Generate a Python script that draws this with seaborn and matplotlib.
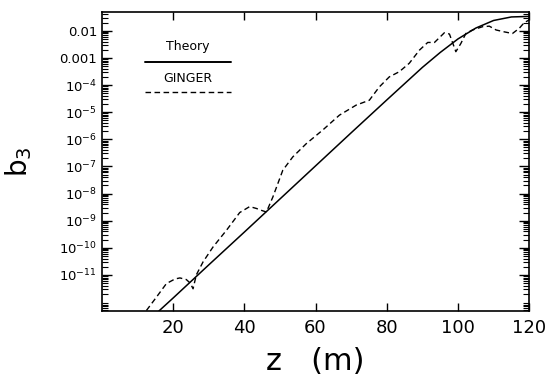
import numpy as np
import pandas as pd
import matplotlib
matplotlib.use("Agg")
import matplotlib.pyplot as plt
from matplotlib.lines import Line2D
from matplotlib.ticker import FixedLocator, FixedFormatter, LogLocator, NullFormatter
import seaborn as sns

# Theory curve: z (m) and log10(b3)
theory_z = [16, 20, 30, 40, 50, 60, 70, 80, 90, 95, 100, 105, 110, 115, 120]
theory_exp = [-12.33, -11.85, -10.63, -9.42, -8.20, -6.98, -5.76, -4.55, -3.35,
              -2.80, -2.30, -1.90, -1.62, -1.49, -1.47]

# GINGER simulation: z (m) and log10(b3)
ginger_z = [12.5, 15.3, 18.1, 20.5, 21.9, 23.7, 24.8, 25.6, 26.5, 28.4, 31.2, 35.0,
            38.7, 41.5, 43.4, 44.8, 46.2, 48.0, 50.8, 53.6, 57.4, 62.0, 66.7, 71.4,
            75.1, 77.9, 80.7, 83.5, 86.3, 89.2, 91.5, 93.4, 96.2, 97.6, 99.4, 100.8,
            102.2, 104.1, 106.9, 108.8, 110.7, 113.0, 115.3, 117.2, 118.6, 120]
ginger_exp = [-12.31, -11.82, -11.32, -11.15, -11.11, -11.17, -11.30, -11.51, -11.0,
              -10.52, -9.97, -9.35, -8.70, -8.48, -8.55, -8.62, -8.68, -8.13, -7.14,
              -6.65, -6.16, -5.66, -5.11, -4.74, -4.56, -4.07, -3.70, -3.51, -3.20,
              -2.71, -2.43, -2.43, -2.07, -2.12, -2.77, -2.47, -2.10, -1.97, -1.85,
              -1.83, -1.97, -2.04, -2.10, -1.91, -1.70, -1.60]

x_ticks = [20, 40, 60, 80, 100, 120]
y_tick_exps = [-2, -3, -4, -5, -6, -7, -8, -9, -10, -11]
y_tick_labels = ["0.01", "0.001"] + [f"$10^{{{e}}}$" for e in range(-4, -12, -1)]

sns.set_style("ticks")
plt.rcParams["font.family"] = ["DejaVu Sans"]
plt.rcParams["mathtext.default"] = "regular"
for k in ["text.color", "axes.labelcolor", "xtick.color", "ytick.color", "axes.edgecolor"]:
    plt.rcParams[k] = "black"

theory = pd.DataFrame({"z": theory_z, "b3": 10.0 ** np.array(theory_exp)})
ginger = pd.DataFrame({"z": ginger_z, "b3": 10.0 ** np.array(ginger_exp)})

fig = plt.figure(figsize=(5.6, 3.77), dpi=100)
ax = fig.add_axes([0.182, 0.175, 0.763, 0.793])

sns.lineplot(data=theory, x="z", y="b3", ax=ax, color="black", lw=1.1, estimator=None)
sns.lineplot(data=ginger, x="z", y="b3", ax=ax, color="black", lw=1.0,
             estimator=None, linestyle=(0, (4, 2.5)))

ax.set_yscale("log")
ax.set_xlim(0, 120)
ax.set_ylim(10 ** -12.33, 10 ** -1.31)

ax.set_xticks(x_ticks)
ax.set_xticklabels([str(t) for t in x_ticks], fontsize=13)
ax.yaxis.set_major_locator(FixedLocator([10.0 ** e for e in y_tick_exps]))
ax.yaxis.set_major_formatter(FixedFormatter(y_tick_labels))
ax.yaxis.set_minor_locator(LogLocator(base=10, subs=np.arange(2, 10), numticks=50))
ax.yaxis.set_minor_formatter(NullFormatter())
ax.tick_params(axis="y", which="major", labelsize=9.5, direction="in", length=7,
               width=1, left=True, right=True)
ax.tick_params(axis="y", which="minor", direction="in", length=4, width=0.8,
               left=True, right=True)
ax.tick_params(axis="x", which="major", direction="in", length=6, width=1,
               top=True, bottom=True, pad=6)
ax.tick_params(axis="x", which="minor", bottom=False, top=False)

for s in ax.spines.values():
    s.set_visible(True)
    s.set_linewidth(1.2)
    s.set_color("black")

ax.set_xlabel("z   (m)", fontsize=22, labelpad=7)
ax.set_ylabel("b$_3$", fontsize=20, labelpad=18)

# Legend (text above line sample)
ax.text(0.2, 0.884, "Theory", transform=ax.transAxes, ha="center", va="center", fontsize=9)
ax.add_line(Line2D([0.1007, 0.301], [0.832, 0.832], transform=ax.transAxes,
                   color="black", lw=1.4))
ax.text(0.2, 0.778, "GINGER", transform=ax.transAxes, ha="center", va="center", fontsize=9)
ax.add_line(Line2D([0.1007, 0.301], [0.733, 0.733], transform=ax.transAxes,
                   color="black", lw=1.0, linestyle=(0, (4, 2.5))))

fig.savefig("out.png", dpi=100)
